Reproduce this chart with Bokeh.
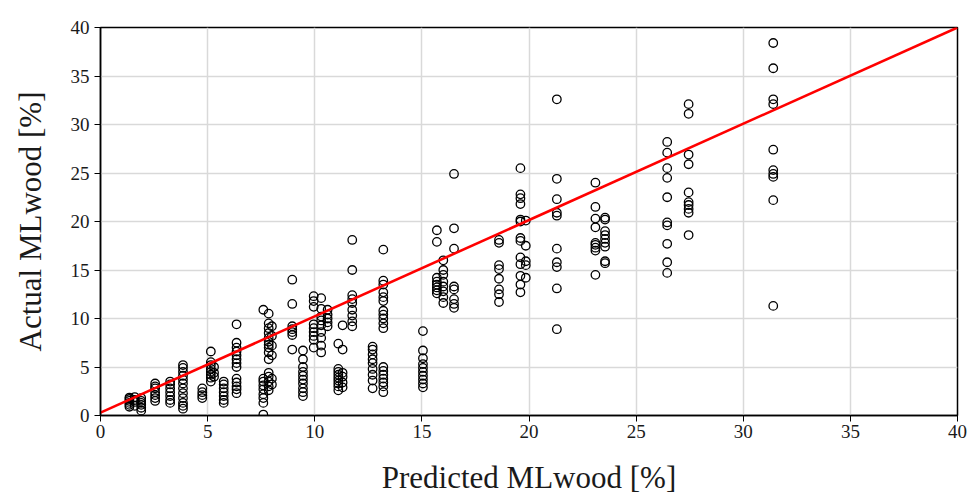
from bokeh.plotting import figure
from bokeh.models import Range1d, FixedTicker
from bokeh.embed import file_html
from bokeh.resources import INLINE

# ---- data ----
pred_cols = [1.35, 1.6, 1.9, 2.55, 3.25, 3.85, 4.75, 5.15, 5.3, 5.75, 6.35, 7.6, 7.85, 8.0,
             8.95, 9.45, 9.95, 10.3, 10.6, 11.1, 11.3, 11.75, 12.7, 13.2, 15.05, 15.7, 16.0,
             16.5, 18.6, 19.6, 19.85, 21.3, 23.1, 23.55, 26.45, 27.45, 31.4]
actual_by_col = [
    [0.9, 1.1, 1.3, 1.5, 1.7, 1.85],
    [1.0, 1.4, 1.6, 1.9],
    [0.5, 0.8, 1.1, 1.3, 1.5, 1.8],
    [1.5, 1.8, 2.1, 2.4, 2.8, 3.0, 3.3],
    [1.3, 1.6, 2.0, 2.4, 2.8, 3.2, 3.5],
    [0.7, 1.0, 1.3, 1.8, 2.3, 2.8, 3.3, 3.7, 4.1, 4.5, 4.9, 5.2],
    [1.8, 2.1, 2.4, 2.8],
    [3.5, 3.9, 4.2, 4.5, 4.8, 5.2, 5.5, 6.6],
    [4.0, 4.4, 5.0],
    [1.3, 1.6, 2.0, 2.4, 2.8, 3.2, 3.5],
    [2.3, 2.7, 3.0, 3.4, 3.8, 5.0, 5.4, 5.8, 6.2, 6.6, 7.0, 7.5, 9.4],
    [0.1, 1.3, 1.8, 2.2, 2.7, 3.1, 3.5, 3.8, 10.9],
    [2.6, 3.0, 3.5, 4.0, 4.4, 5.8, 6.5, 7.0, 7.3, 7.6, 8.0, 8.5, 9.0, 9.5, 10.5],
    [3.2, 3.8, 6.2, 7.2, 8.2, 9.2],
    [6.8, 8.3, 8.6, 8.9, 9.2, 11.5, 14.0],
    [2.0, 2.4, 2.8, 3.3, 3.7, 4.1, 4.5, 5.0, 5.8, 6.7],
    [7.0, 7.8, 8.2, 8.6, 9.0, 9.4, 11.2, 11.8, 12.3],
    [6.5, 7.2, 8.0, 8.6, 9.3, 9.8, 10.2, 11.0, 12.1],
    [9.2, 9.6, 10.0, 10.4, 10.9],
    [2.6, 3.0, 3.3, 3.6, 3.9, 4.2, 4.5, 4.8, 7.4],
    [2.9, 3.4, 4.0, 4.4, 6.8, 9.3],
    [9.2, 9.7, 10.3, 10.9, 11.6, 12.0, 12.4, 15.0, 18.1],
    [2.8, 3.6, 4.2, 4.8, 5.4, 5.8, 6.3, 6.8, 7.1],
    [2.4, 3.0, 3.4, 3.8, 4.2, 4.6, 5.0, 9.0, 9.5, 10.0, 10.4, 10.8, 11.8, 12.2, 12.7, 13.5, 13.9, 17.1],
    [2.9, 3.3, 3.7, 4.1, 4.5, 4.9, 5.3, 5.9, 6.7, 8.7],
    [12.6, 12.9, 13.2, 13.5, 13.8, 14.2, 17.9, 19.1],
    [11.6, 12.2, 12.8, 13.3, 13.8, 14.5, 15.0, 16.0],
    [11.1, 11.5, 12.0, 13.0, 13.3, 17.2, 19.3, 24.9],
    [11.7, 12.5, 13.0, 14.1, 15.1, 15.5, 17.8, 18.1],
    [12.7, 13.5, 14.4, 15.6, 16.3, 18.0, 18.3, 20.0, 20.2, 21.8, 22.4, 22.8, 25.5],
    [14.2, 15.5, 15.9, 17.5, 20.1],
    [8.9, 13.1, 15.3, 15.8, 17.2, 20.6, 20.9, 22.3, 24.4, 32.6],
    [14.5, 17.0, 17.3, 17.6, 17.8, 19.4, 20.3, 21.5, 24.0],
    [15.7, 15.9, 17.4, 17.8, 18.2, 18.6, 19.0, 20.2, 20.4],
    [14.7, 15.8, 17.7, 19.6, 19.9, 22.5, 24.5, 25.5, 27.1, 28.2],
    [18.6, 20.9, 21.3, 21.7, 22.0, 23.0, 25.9, 26.9, 31.1, 32.1],
    [11.3, 22.2, 24.6, 24.9, 25.3, 27.4, 32.1, 32.6, 35.8, 38.4],
]
fit_x = [0.0, 40.0]
fit_y = [0.3, 40.0]
x_ticks = [0, 5, 10, 15, 20, 25, 30, 35, 40]
y_ticks = [0, 5, 10, 15, 20, 25, 30, 35, 40]
x_title = "Predicted MLwood [%]"
y_title = "Actual MLwood [%]"

predicted = [px for px, ys in zip(pred_cols, actual_by_col) for _ in ys]
actual = [y for ys in actual_by_col for y in ys]

FONT = "Liberation Serif"

p = figure(width=969, height=501, output_backend="svg", toolbar_location=None,
           x_range=Range1d(0, 40), y_range=Range1d(0, 40))
p.min_border_left = 100
p.min_border_right = 12
p.min_border_top = 27
p.min_border_bottom = 86
p.background_fill_color = "white"
p.border_fill_color = "white"
p.outline_line_color = "black"
p.outline_line_width = 1.5

for ax, ticks in ((p.xaxis, x_ticks), (p.yaxis, y_ticks)):
    ax.ticker = FixedTicker(ticks=ticks)
    ax.minor_tick_line_color = None
    ax.major_tick_in = 0
    ax.major_tick_out = 6
    ax.major_tick_line_color = "black"
    ax.axis_line_color = "black"
    ax.axis_line_width = 1.5
    ax.major_label_text_font = FONT
    ax.major_label_text_font_size = "19px"
    ax.major_label_text_color = "#1a1a1a"
    ax.axis_label_text_font = FONT
    ax.axis_label_text_font_size = "31px"
    ax.axis_label_text_font_style = "normal"
    ax.axis_label_text_color = "#1a1a1a"
p.xaxis.major_label_standoff = 3
p.yaxis.major_label_standoff = 5
p.xaxis.axis_label = x_title
p.yaxis.axis_label = y_title
p.xaxis.axis_label_standoff = 19
p.yaxis.axis_label_standoff = 20

p.xgrid.ticker = FixedTicker(ticks=x_ticks)
p.ygrid.ticker = FixedTicker(ticks=y_ticks)
p.grid.grid_line_color = "#d9d9d9"
p.grid.grid_line_width = 1.5

p.scatter(predicted, actual, size=8.5, fill_color=None, line_color="black", line_width=1.3)
p.line(fit_x, fit_y, line_color="#ff0000", line_width=2.6)

open("out.html", "w").write(file_html(p, INLINE))
